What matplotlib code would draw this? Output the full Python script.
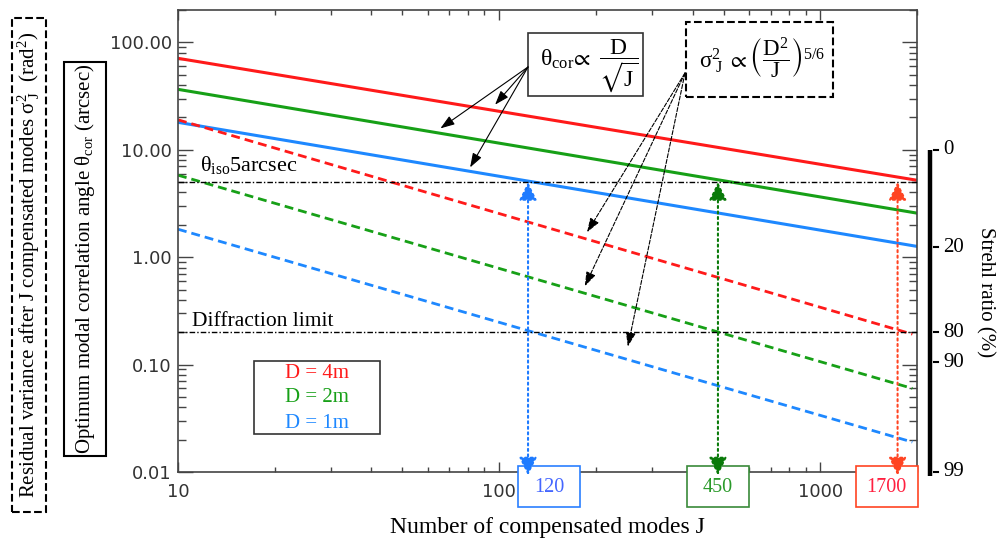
import numpy as np
import matplotlib
matplotlib.use('Agg')
import matplotlib.pyplot as plt
from matplotlib import transforms
from matplotlib.patches import Rectangle
from matplotlib.ticker import FixedLocator, LogLocator, FormatStrFormatter, FuncFormatter, NullFormatter

plt.rcParams['mathtext.fontset'] = 'stix'
plt.rcParams['mathtext.default'] = 'regular'
SERIF = ['Liberation Serif', 'DejaVu Serif']
SANS = ['DejaVu Sans']

# values
j_solid = [10, 2000]
theta_4m = [71.0, 5.2]
theta_2m = [36.5, 2.57]
theta_1m = [18.0, 1.26]
j_dash = [10, 1935]
var_4m = [19.0, 0.192]
var_2m = [5.8, 0.060]
var_1m = [1.82, 0.019]
theta_iso = 5.0
diff_limit = 0.2
j_cross = [123, 480, 1740]
j_cross_labels = ['120', '450', '1700']
strehl_pos = [10, 1.24, 0.2, 0.105, 0.01]
strehl_labels = ['0', '20', '80', '90', '99']
legend_labels = ['D = 4m', 'D = 2m', 'D = 1m']

red, green, blue = '#ff1a1a', '#17a017', '#1e88ff'
arrow_cols = ['#1e7bff', '#0a7a0a', '#ff4422']
box_edge = ['#2a7fff', '#3a8a3a', '#ff4422']
box_text = ['#4466ff', '#2a9a2a', '#ff2040']

W, H = 998, 546
fig = plt.figure(figsize=(W / 100, H / 100), dpi=100)
ax = fig.add_axes([178 / W, 1 - 472 / H, (917 - 178) / W, (472 - 10) / H])
ax.set_xscale('log')
ax.set_yscale('log')
ax.set_xlim(10, 2000)
ax.set_ylim(0.01, 200)
ax.set_autoscale_on(False)


def px_rect(x0, y0, x1, y1, **kw):
    r = Rectangle((x0 / W, 1 - y1 / H), (x1 - x0) / W, (y1 - y0) / H,
                  transform=fig.transFigure, clip_on=False, **kw)
    ax.add_patch(r)


def px_text(x, y, s, **kw):
    ax.text(x / W, 1 - y / H, s, transform=fig.transFigure, clip_on=False, **kw)


def on_line(j, xs, ys):
    return 10 ** np.interp(np.log10(j), np.log10(xs), np.log10(ys))


# model lines
for ys, c in zip([theta_4m, theta_2m, theta_1m], [red, green, blue]):
    ax.plot(j_solid, ys, color=c, lw=2.2, zorder=2)
for ys, c in zip([var_4m, var_2m, var_1m], [red, green, blue]):
    ax.plot(j_dash, ys, color=c, lw=2.0, ls=(0, (3.2, 1.8)), zorder=2)

# reference levels
ref_ls = (0, (4, 1.5, 1, 1.5))
ax.plot([10, 2000], [theta_iso, theta_iso], color='k', lw=1.0, ls=ref_ls, zorder=3)
ax.plot([10, 2000], [diff_limit, diff_limit], color='k', lw=1.0, ls=ref_ls, zorder=3)
px_text(200, 165, r'$\theta_{iso}$5arcsec', fontsize=16, family=SERIF, va='center')
px_text(192, 322, 'Diffraction limit', fontsize=15.5, family=SERIF, va='center')

# vertical arrows and value boxes
offsets = [21, 0, -11]
for j, lab, c, ec, tc, off in zip(j_cross, j_cross_labels, arrow_cols, box_edge, box_text, offsets):
    ax.annotate('', xy=(j, theta_iso), xytext=(j, 0.0093),
                arrowprops=dict(arrowstyle='<|-|>,head_length=0.55,head_width=0.27',
                                mutation_scale=20, color=c, lw=1.5, ls=':',
                                shrinkA=0, shrinkB=0),
                annotation_clip=False, zorder=6)
    xp = ax.transData.transform((j, 1))[0] + off
    px_rect(xp - 31, 466, xp + 31, 507, facecolor='white', edgecolor=ec, lw=1.2, zorder=4)
    px_text(xp, 488, lab, fontsize=14.5, family=SERIF, color=tc, ha='center', va='center', zorder=5)

# formula boxes with arrows
px_rect(528, 33, 643, 96, facecolor='white', edgecolor='#333333', lw=1.2, zorder=4)
px_text(589, 66, r'$\theta_{cor}\!\propto\ \dfrac{D}{\sqrt{J}}$', fontsize=17,
        family=SERIF, ha='center', va='center', zorder=5)
px_rect(686, 22, 833, 97, facecolor='white', edgecolor='k', lw=1.5, ls='--', zorder=4)
px_text(762, 58, r'$\sigma^{2}_{\ J}\ \propto \left(\dfrac{D^{2}}{J}\right)^{5/6}$', fontsize=16.5,
        family=SERIF, ha='center', va='center', zorder=5)

solid_tips = [(94, theta_4m, 5), (63, theta_2m, 5), (80, theta_1m, 3)]
for j, ys, s in solid_tips:
    ax.annotate('', xy=(j, on_line(j, j_solid, ys)), xytext=(528 / W, 1 - 67 / H),
                textcoords='figure fraction',
                arrowprops=dict(arrowstyle='-|>,head_length=0.43,head_width=0.15',
                                mutation_scale=20, color='k', lw=0.8, shrinkA=0, shrinkB=s),
                zorder=5)
dash_tips = [(183, var_4m, 5), (181, var_2m, 5), (247, var_1m, 9)]
for j, ys, s in dash_tips:
    ax.annotate('', xy=(j, on_line(j, j_dash, ys)), xytext=(685 / W, 1 - 73 / H),
                textcoords='figure fraction',
                arrowprops=dict(arrowstyle='-|>,head_length=0.43,head_width=0.15',
                                mutation_scale=20, color='k', lw=0.8, ls='--',
                                shrinkA=0, shrinkB=s),
                zorder=5)

# legend
px_rect(254, 361, 380, 434, facecolor='white', edgecolor='#333333', lw=1.2, zorder=4)
for lab, c, y in zip(legend_labels, [red, green, blue], [373, 398, 424]):
    px_text(317, y, lab, fontsize=15, family=SERIF, color=c, ha='center', va='center', zorder=5)

# axes styling
ax.xaxis.set_major_locator(FixedLocator([10, 100, 1000]))
ax.xaxis.set_major_formatter(FuncFormatter(lambda v, p: '%d' % v))
ax.xaxis.set_minor_locator(LogLocator(base=10, subs=np.arange(2, 10)))
ax.xaxis.set_minor_formatter(NullFormatter())
ax.yaxis.set_major_locator(FixedLocator([0.01, 0.1, 1, 10, 100]))
ax.yaxis.set_major_formatter(FormatStrFormatter('%.2f'))
ax.yaxis.set_minor_locator(LogLocator(base=10, subs=np.arange(2, 10)))
ax.yaxis.set_minor_formatter(NullFormatter())
ax.tick_params(which='both', direction='in', top=True, right=True, color='#444444', width=1)
ax.tick_params(axis='x', which='major', length=7, pad=8)
ax.tick_params(axis='x', which='minor', length=3.5)
ax.tick_params(axis='y', which='major', length=11, pad=4.5)
ax.tick_params(axis='y', which='minor', length=5.5)
for lab in ax.get_xticklabels() + ax.get_yticklabels():
    lab.set_family(SANS)
    lab.set_fontsize(13)
    lab.set_color('#333333')
for sp in ax.spines.values():
    sp.set_color('#444444')
    sp.set_linewidth(1.2)

px_text(547, 527, 'Number of compensated modes J', fontsize=17, family=SERIF,
        ha='center', va='center')

# left axis titles
px_rect(12, 18, 46, 512, facecolor='none', edgecolor='k', lw=1.5, ls='--')
px_text(29, 265, r'Residual variance after J compensated modes $\sigma^{2}_{\ J}$  (rad$^{2}$)',
        fontsize=15, family=SERIF, rotation=90, ha='center', va='center')
px_rect(64, 62, 106, 456, facecolor='none', edgecolor='k', lw=1.5)
px_text(85, 259, r'Optimum modal correlation angle $\theta_{cor}$ (arcsec)',
        fontsize=15, family=SERIF, rotation=90, ha='center', va='center')

# Strehl ratio scale
tr = transforms.blended_transform_factory(fig.transFigure, ax.transData)
ax.plot([930 / W, 930 / W], [10, 0.0092], transform=tr, color='k', lw=3.2,
        clip_on=False, solid_capstyle='butt')
for v, lab in zip(strehl_pos, strehl_labels):
    ax.plot([934 / W, 938 / W], [v, v], transform=tr, color='k', lw=1.5, clip_on=False)
    ax.text(943 / W, v, lab, transform=tr, fontsize=15, family=SERIF, va='center',
            ha='left', clip_on=False)
px_text(985, 292, 'Strehl ratio (%)', fontsize=15, family=SERIF, rotation=270,
        ha='center', va='center')

fig.savefig('out.png', dpi=100)
